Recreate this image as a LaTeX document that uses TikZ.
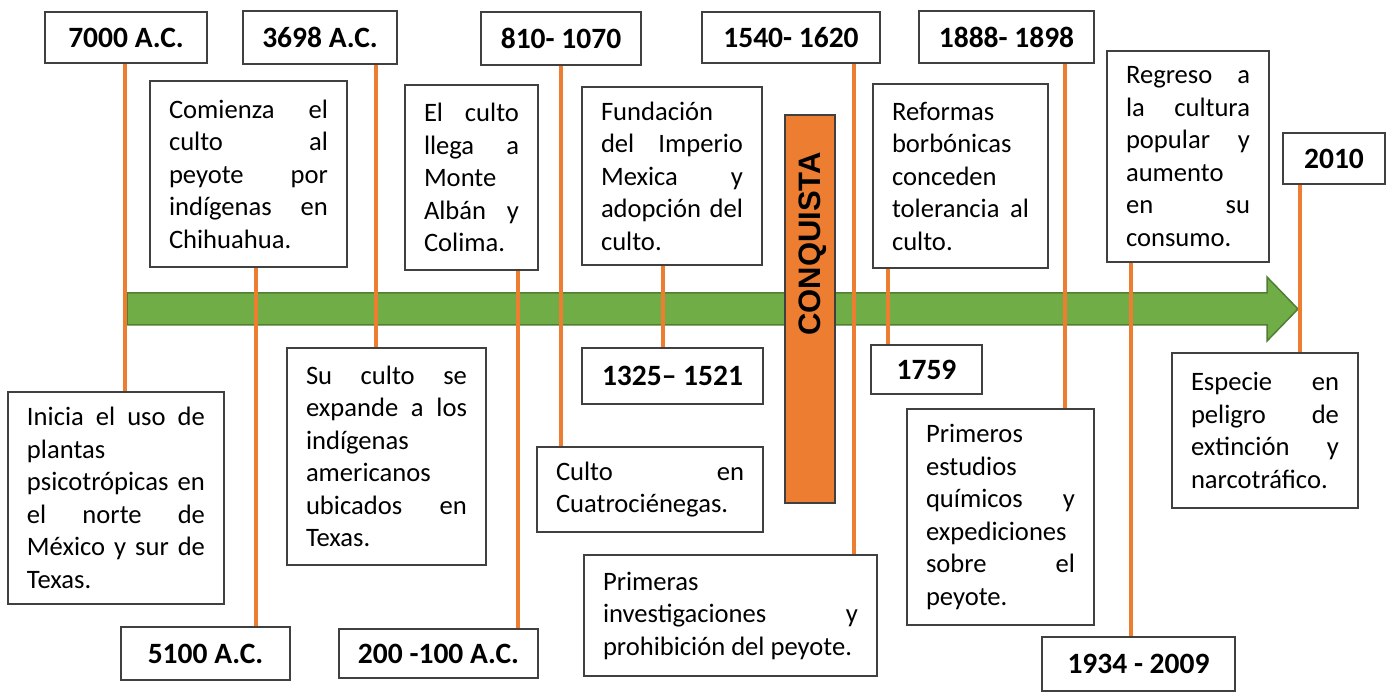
\documentclass[tikz,border=0pt]{standalone}
\usepackage{fontspec}
\setmainfont{Carlito}
\newfontfamily\arialfont{Liberation Sans}
\definecolor{tlorange}{HTML}{ED7D31}
\definecolor{tlgreen}{HTML}{70AD47}
\definecolor{tlgreendark}{HTML}{507E32}
\definecolor{boxline}{HTML}{404040}
\tolerance=10000 \hbadness=10000 \hyphenpenalty=10000
\begin{document}
\begin{tikzpicture}[x=1pt, y=-1pt,
    date/.style={draw=boxline, fill=white, line width=1.3pt, inner sep=0pt, font=\bfseries\fontsize{29.5}{35}\selectfont},
    txt/.style={draw=boxline, fill=white, line width=1.3pt, inner xsep=19pt, inner ysep=0pt, align=justify, font=\fontsize{26.6}{32.5}\selectfont},
    tick/.style={draw=tlorange, line width=3.6pt}]
        \useasboundingbox (0,0) rectangle (1386,692);

        % flecha del tiempo
        \draw[fill=tlgreen, draw=tlgreendark, line width=1.5pt] (127,293) -- (1267,293) -- (1267,277) -- (1298,309) -- (1267,341) -- (1267,325) -- (127,325) -- cycle;

        \node[draw=boxline, fill=tlorange, line width=1.3pt, minimum width=50pt, minimum height=388pt, inner sep=0pt] (conq) at (810,309) {};
        \node[rotate=90, font=\arialfont\bfseries\fontsize{31}{36}\selectfont] (conqtxt) at (813,244) {CONQUISTA};

        % fechas
        \node[date, minimum width=162pt, minimum height=51pt] (d7000) at (126,37.5) {7000 A.C.};
        \node[date, minimum width=154pt, minimum height=53pt] (d3698) at (320,37.5) {3698 A.C.};
        \node[date, minimum width=160pt, minimum height=53pt] (d810) at (561,38.5) {810- 1070};
        \node[date, minimum width=178pt, minimum height=51pt] (d1540) at (791,37.5) {1540- 1620};
        \node[date, minimum width=175pt, minimum height=52pt] (d1888) at (1006.5,37) {1888- 1898};
        \node[date, minimum width=102pt, minimum height=51pt] (d2010) at (1334,158.5) {2010};
        \node[date, minimum width=169pt, minimum height=53pt] (d5100) at (205.5,653.5) {5100 A.C.};
        \node[date, minimum width=199pt, minimum height=49pt] (d200) at (438.5,653.5) {200 -100 A.C.};
        \node[date, minimum width=181pt, minimum height=56pt] (d1325) at (672.5,376) {1325-- 1521};
        \node[date, minimum width=111pt, minimum height=49pt] (d1759) at (926.5,369.5) {1759};
        \node[date, minimum width=193pt, minimum height=54pt] (d1934) at (1138.5,664) {1934 - 2009};

        % eventos
        \node[txt, text width=178pt, minimum height=212pt] (e7000) at (116,498) {Inicia el uso de\linebreak plantas\linebreak psicotrópicas en\linebreak el norte de\linebreak México y sur de\linebreak Texas.};
        \node[txt, text width=159pt, minimum height=186pt] (e5100) at (248.5,174) {Comienza el\linebreak culto al\linebreak peyote por\linebreak indígenas en\linebreak Chihuahua.};
        \node[txt, text width=161pt, minimum height=217pt] (e3698) at (386.5,456.5) {Su culto se\linebreak expande a los\linebreak indígenas\linebreak americanos\linebreak ubicados en\linebreak Texas.};
        \node[txt, text width=95pt, minimum height=185pt] (e200) at (471.5,177.5) {El culto\linebreak llega a\linebreak Monte\linebreak Albán y\linebreak Colima.};
        \node[txt, text width=188pt, minimum height=85pt] (e810) at (650,489.5) {Culto en\linebreak Cuatrociénegas.};
        \node[txt, text width=142pt, minimum height=178pt] (e1325) at (672,176) {Fundación\linebreak del Imperio\linebreak Mexica y\linebreak adopción del\linebreak culto.};
        \node[txt, text width=255pt, minimum height=121pt] (e1540) at (730.5,615.5) {Primeras\linebreak investigaciones y\linebreak prohibición del peyote.};
        \node[txt, text width=137pt, minimum height=184pt] (e1759) at (960.5,176) {Reformas\linebreak borbónicas\linebreak conceden\linebreak tolerancia al\linebreak culto.};
        \node[txt, text width=149pt, minimum height=216pt] (e1888) at (1000.5,517) {Primeros\linebreak estudios\linebreak químicos y\linebreak expediciones\linebreak sobre el\linebreak peyote.};
        \node[txt, text width=124pt, minimum height=211pt] (e1934) at (1188,156.5) {Regreso a\linebreak la cultura\linebreak popular y\linebreak aumento\linebreak en su\linebreak consumo.};
        \node[txt, text width=148pt, minimum height=155pt] (e2010) at (1265,430.5) {Especie en\linebreak peligro de\linebreak extinción y\linebreak narcotráfico.};

        % lineas
        \draw[tick] (d7000.south -| 125,0) -- (e7000.north -| 125,0);
        \draw[tick] (d3698.south -| 376,0) -- (e3698.north -| 376,0);
        \draw[tick] (e5100.south -| 256,0) -- (d5100.north -| 256,0);
        \draw[tick] (e200.south -| 518,0) -- (d200.north -| 518,0);
        \draw[tick] (d810.south -| 561,0) -- (e810.north -| 561,0);
        \draw[tick] (e1325.south -| 663,0) -- (d1325.north -| 663,0);
        \draw[tick] (d1540.south -| 854,0) -- (e1540.north -| 854,0);
        \draw[tick] (e1759.south -| 888,0) -- (d1759.north -| 888,0);
        \draw[tick] (d1888.south -| 1065,0) -- (e1888.north -| 1065,0);
        \draw[tick] (e1934.south -| 1131,0) -- (d1934.north -| 1131,0);
        \draw[tick] (d2010.south -| 1300,0) -- (e2010.north -| 1300,0);
    \end{tikzpicture}
\end{document}
